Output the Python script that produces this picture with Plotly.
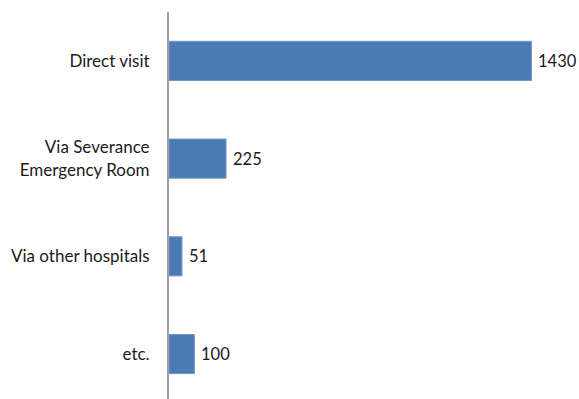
import plotly.graph_objects as go

categories = ["Direct visit", "Via Severance<br>Emergency Room", "Via other hospitals", "etc."]
values = [1430, 225, 51, 100]

BAR_COLOR = "#4a7bb7"
TICK_FONT = dict(family="Lato, 'Open Sans', sans-serif", size=17, color="#1a1a1a")
VALUE_FONT = dict(family="Lato, 'Open Sans', sans-serif", size=16.5, color="#1a1a1a")

fig = go.Figure(
    go.Bar(
        x=values,
        y=categories,
        orientation="h",
        width=0.4,
        marker=dict(color=BAR_COLOR, line=dict(color="#6f96c8", width=1)),
        hoverinfo="skip",
    )
)

# value labels just to the right of each bar end
for v, c in zip(values, categories):
    fig.add_annotation(
        x=v, y=c, text=str(v), showarrow=False,
        xanchor="left", yanchor="middle", xshift=5, font=VALUE_FONT,
    )

fig.update_layout(
    width=579,
    height=399,
    margin=dict(l=169, r=10, t=12, b=0),
    paper_bgcolor="white",
    plot_bgcolor="white",
    showlegend=False,
    font=TICK_FONT,
)
fig.update_xaxes(
    range=[0, 1578], visible=False, showgrid=False, zeroline=False,
)
fig.update_yaxes(
    range=[3.46, -0.5],
    showgrid=False,
    zeroline=False,
    showline=True,
    linecolor="#a0a0a0",
    linewidth=2,
    ticks="",
    ticklabelstandoff=14,
    tickfont=TICK_FONT,
)

fig.write_html("out.html")
